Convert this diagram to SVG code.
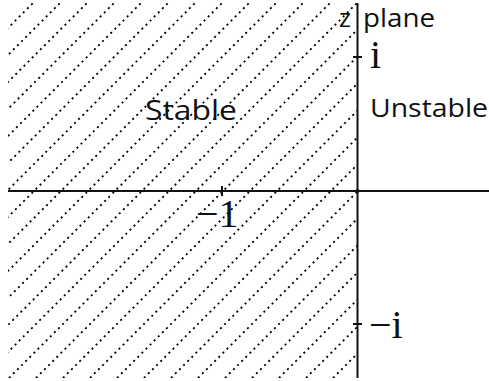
<svg xmlns="http://www.w3.org/2000/svg" width="489" height="381" viewBox="0 0 489 381">
<style>
.hatch{fill:none;stroke:#000;stroke-width:1.8;stroke-dasharray:2 3.8}
.axis{fill:none;stroke:#111;stroke-width:2}
.lbl{font-family:"Open Sans","DejaVu Sans",sans-serif;fill:#111}
.math{font-family:"Liberation Serif","Times New Roman",serif;fill:#111;font-size:40px}
</style>
<defs>
<clipPath id="half"><rect x="8" y="2" width="349" height="376"/></clipPath>
</defs>
<rect width="489" height="381" fill="#fff"/>
<g id="stable-region" clip-path="url(#half)">
<path class="hatch" d="M-342 378L33 3M-315 378L60 3M-288 378L87 3M-261 378L114 3M-234 378L141 3M-207 378L168 3M-180 378L195 3M-153 378L222 3M-126 378L249 3M-99 378L276 3M-72 378L303 3M-45 378L330 3M-18 378L357 3M9 378L384 3M36 378L411 3M63 378L438 3M90 378L465 3M117 378L492 3M144 378L519 3M171 378L546 3M198 378L573 3M225 378L600 3M252 378L627 3M279 378L654 3M306 378L681 3M333 378L708 3"/>
</g>
<g id="axes">
<line class="axis" x1="8" y1="191" x2="489" y2="191"/>
<line class="axis" x1="357.5" y1="3" x2="357.5" y2="378"/>
<line class="axis" x1="222" y1="186" x2="222" y2="196" stroke-width="1.5"/>
<line class="axis" x1="353" y1="57" x2="362" y2="57" stroke-width="1.5"/>
<line class="axis" x1="353" y1="324" x2="362" y2="324" stroke-width="1.5"/>
<circle cx="357.5" cy="191" r="2" fill="#111"/>
</g>
<g id="labels">
<text class="lbl" x="339" y="27" font-size="26" textLength="12" lengthAdjust="spacingAndGlyphs">z</text>
<text class="lbl" x="363" y="27" font-size="26" textLength="72" lengthAdjust="spacingAndGlyphs">plane</text>
<text class="lbl" x="145" y="120" font-size="27" textLength="92" lengthAdjust="spacingAndGlyphs">Stable</text>
<text class="lbl" x="370" y="117" font-size="26" textLength="118" lengthAdjust="spacingAndGlyphs">Unstable</text>
<text class="math" x="370" y="68">i</text>
<text class="math" x="196" y="227">−1</text>
<text class="math" x="369" y="338">−i</text>
</g>
</svg>
